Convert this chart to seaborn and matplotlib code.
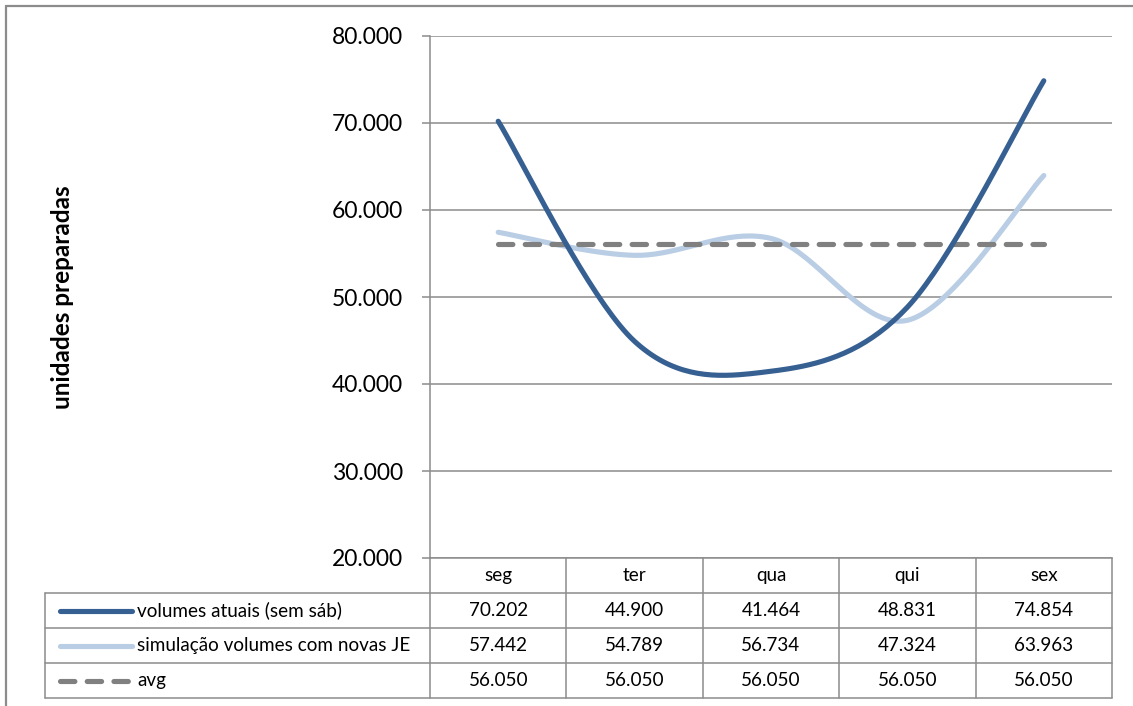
import numpy as np
import pandas as pd
import matplotlib
matplotlib.use("Agg")
import matplotlib.pyplot as plt
import matplotlib.transforms as mtransforms
from matplotlib.lines import Line2D
from matplotlib.ticker import FuncFormatter, MultipleLocator
import seaborn as sns

dias = ['seg', 'ter', 'qua', 'qui', 'sex']
volumes_atuais = [70202, 44900, 41464, 48831, 74854]
simulacao = [57442, 54789, 56734, 47324, 63963]
media = [56050, 56050, 56050, 56050, 56050]
nomes = ['volumes atuais (sem sáb)', 'simulação volumes com novas JE', 'avg']

cores = ['#376092', '#b9cde5', '#808080']
cinza = '#8c8c8c'


def suavizar(ys, n=40):
    # linha suavizada como no excel (bezier usando os pontos vizinhos)
    pts = np.column_stack([np.arange(len(ys), dtype=float), np.asarray(ys, dtype=float)])
    out = []
    t = np.linspace(0, 1, n)[:, None]
    for i in range(len(pts) - 1):
        p0 = pts[max(i - 1, 0)]
        p1 = pts[i]
        p2 = pts[i + 1]
        p3 = pts[min(i + 2, len(pts) - 1)]
        c1 = p1 + (p2 - p0) / 6
        c2 = p2 - (p3 - p1) / 6
        seg = (1 - t) ** 3 * p1 + 3 * (1 - t) ** 2 * t * c1 + 3 * (1 - t) * t ** 2 * c2 + t ** 3 * p2
        out.append(seg if i == 0 else seg[1:])
    out = np.vstack(out)
    return out[:, 0], out[:, 1]


sns.set_theme(style="white")
plt.rcParams['font.family'] = ['Lato', 'DejaVu Sans']

W, H = 1133, 706
fig = plt.figure(figsize=(W / 100, H / 100), dpi=100)
# area do grafico em pixels: x 430-1112, y 36-558
ax = fig.add_axes([430 / W, (H - 558) / H, 682 / W, 522 / H])

series = [(simulacao, cores[1], '-'), (media, cores[2], '--'), (volumes_atuais, cores[0], '-')]
for vals, cor, ls in series:
    xs, ys = suavizar(vals)
    df = pd.DataFrame({'x': xs, 'y': ys})
    sns.lineplot(data=df, x='x', y='y', sort=False, ax=ax, color=cor, linewidth=3.7,
                 solid_capstyle='round', dash_capstyle='round')
    if ls == '--':
        ax.lines[-1].set_dashes((2.8, 2.4))

ax.set_xlim(-0.5, len(dias) - 0.5)
ax.set_ylim(20000, 80000)
ax.yaxis.set_major_locator(MultipleLocator(10000))
ax.yaxis.set_major_formatter(FuncFormatter(lambda v, p: f"{v:,.0f}".replace(",", ".")))
ax.set_xticks([])
ax.set_xlabel('')
ax.grid(axis='y', color=cinza, linewidth=1.1)
ax.tick_params(axis='y', which='major', left=True, length=6, width=1.1, color=cinza,
               pad=13.5, labelsize=16.5, labelcolor='black')
for s in ['top', 'right']:
    ax.spines[s].set_visible(False)
for s in ['left', 'bottom']:
    ax.spines[s].set_color(cinza)
    ax.spines[s].set_linewidth(1.1)

ax.set_ylabel('unidades preparadas', fontsize=17.5, fontweight='bold', color='black')
ax.yaxis.set_label_coords((74 - 430) / 682, 0.5)

# tabela de dados embaixo do grafico
tr = mtransforms.blended_transform_factory(ax.transData, ax.transAxes)
px = 682 / len(dias)
rh = 35 / 522
x_esq = -0.5 - (430 - 45) / px
bottom = -4 * rh
kw = dict(transform=tr, clip_on=False, color=cinza, linewidth=1.1)

for i in range(len(dias) + 1):
    ax.add_line(Line2D([i - 0.5, i - 0.5], [0, bottom], **kw))
ax.add_line(Line2D([x_esq, x_esq], [-rh, bottom], **kw))
for r in range(1, 5):
    ax.add_line(Line2D([x_esq, len(dias) - 0.5], [-r * rh, -r * rh], **kw))

fs = 13.6
for i, d in enumerate(dias):
    ax.text(i, -0.5 * rh, d, transform=tr, ha='center', va='center', fontsize=fs, color='black')

linhas = [volumes_atuais, simulacao, media]
for r, (vals, nome) in enumerate(zip(linhas, nomes)):
    yc = -(r + 1.5) * rh
    for i, v in enumerate(vals):
        ax.text(i, yc, f"{v:,.0f}".replace(",", "."), transform=tr, ha='center', va='center',
                fontsize=fs, color='black')
    sw = Line2D([-0.5 - 370 / px, -0.5 - 298 / px], [yc, yc], transform=tr, clip_on=False,
                color=cores[r], linewidth=3.7, solid_capstyle='round', dash_capstyle='round')
    if r == 2:
        sw.set_dashes((2.8, 2.4))
    ax.add_line(sw)
    ax.text(-0.5 - 293 / px, yc, nome, transform=tr, ha='left', va='center', fontsize=fs, color='black')

# moldura externa (so esquerda e topo aparecem)
fig.add_artist(Line2D([6 / W, 6 / W], [0, 1 - 6 / H], transform=fig.transFigure, color=cinza, linewidth=1.6))
fig.add_artist(Line2D([6 / W, 1], [1 - 6 / H, 1 - 6 / H], transform=fig.transFigure, color=cinza, linewidth=1.6))

fig.savefig('out.png', dpi=100)
